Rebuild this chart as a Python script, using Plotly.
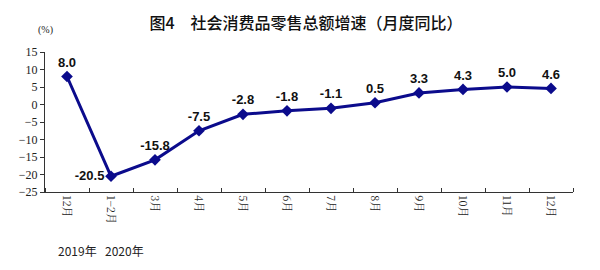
import plotly.graph_objects as go

months = ["12月", "1−2月", "3月", "4月", "5月", "6月", "7月", "8月", "9月", "10月", "11月", "12月"]
growth = [8.0, -20.5, -15.8, -7.5, -2.8, -1.8, -1.1, 0.5, 3.3, 4.3, 5.0, 4.6]
y_ticks = [15, 10, 5, 0, -5, -10, -15, -20, -25]
title_text = "图4　社会消费品零售总额增速（月度同比）"

xs = list(range(len(months)))
labels = [f"{v:.1f}" for v in growth]
positions = ["top center"] * len(growth)
positions[1] = "middle left"

fig = go.Figure()
fig.add_trace(go.Scatter(
    x=xs, y=growth, mode="lines+markers+text",
    line=dict(color="#0b0b8c", width=3),
    marker=dict(symbol="diamond", size=9, color="#0b0b8c"),
    text=labels, textposition=positions,
    textfont=dict(family="Liberation Sans, Arial", size=13, color="#111111", weight="bold"),
    cliponaxis=False, hoverinfo="skip", showlegend=False,
))

fig.update_layout(
    width=600, height=270,
    margin=dict(l=45, r=27, t=52, b=78),
    paper_bgcolor="white", plot_bgcolor="white",
    title=dict(text=title_text, x=0.51, xanchor="center", y=0.915, yanchor="middle",
               font=dict(family="Noto Sans CJK SC", size=16, color="#111111", weight=500)),
    xaxis=dict(
        range=[-0.5, 11.5], tickvals=xs, ticktext=months, tickangle=90,
        ticks="", showline=True, linecolor="#333333", linewidth=1.2,
        showgrid=False, zeroline=False,
        tickfont=dict(family="Noto Serif CJK SC, Noto Sans CJK SC", size=11, color="#222222"),
        minor=dict(tick0=0.5, dtick=1, ticks="inside", ticklen=4, tickcolor="#333333", showgrid=False),
    ),
    yaxis=dict(
        range=[-25, 15], tickvals=y_ticks, ticks="outside", ticklen=4, tickcolor="#333333",
        showline=True, linecolor="#333333", linewidth=1.2, showgrid=False, zeroline=False,
        tickfont=dict(family="Liberation Serif, DejaVu Serif", size=12, color="#222222"),
    ),
)

fig.add_annotation(text="(%)", xref="paper", yref="paper", x=0.0, y=1.0, yshift=14,
                   xanchor="center", yanchor="bottom", showarrow=False,
                   font=dict(family="Liberation Serif", size=10, color="#222222"))
fig.add_annotation(text="2019年", xref="x", yref="paper", x=0.0, y=0, yshift=-58, xshift=10,
                   xanchor="center", yanchor="middle", showarrow=False,
                   font=dict(family="Noto Sans CJK SC", size=12, color="#222222"))
fig.add_annotation(text="2020年", xref="x", yref="paper", x=1.0, y=0, yshift=-58, xshift=13,
                   xanchor="center", yanchor="middle", showarrow=False,
                   font=dict(family="Noto Sans CJK SC", size=12, color="#222222"))

fig.write_html("out.html")
